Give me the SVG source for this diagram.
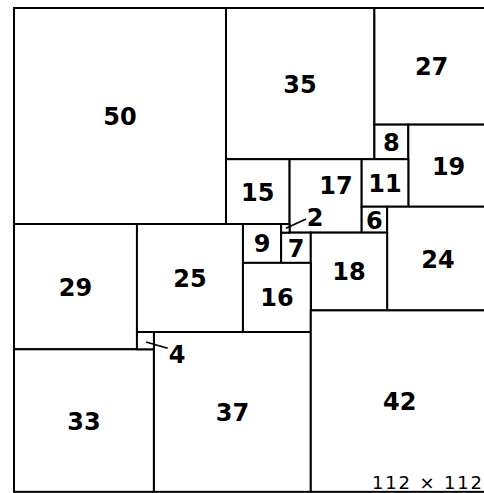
<svg xmlns="http://www.w3.org/2000/svg" width="484" height="493" viewBox="0 0 484 493">
<style>
rect{fill:#fff;stroke:#000;stroke-width:2}
.l{font-family:"DejaVu Sans",Verdana,sans-serif;font-weight:bold;font-size:24px;text-anchor:middle;fill:#000}
.c{stroke:#000;stroke-width:1.6}
.t{font-family:"DejaVu Sans",Verdana,sans-serif;font-size:18px;text-anchor:end;fill:#000}
</style>
<rect width="484" height="493" style="fill:#fff;stroke:none"/>
<g id="s50"><rect x="14" y="8" width="212" height="216"/><text class="l" x="120" y="125">50</text></g>
<g id="s35"><rect x="226" y="8" width="148.4" height="151.2"/><text class="l" x="300" y="93">35</text></g>
<g id="s27"><rect x="374.4" y="8" width="114.48" height="116.64"/><text class="l" x="431.6" y="75">27</text></g>
<g id="s8"><rect x="374.4" y="124.64" width="33.92" height="34.56"/><text class="l" x="391.4" y="151">8</text></g>
<g id="s19"><rect x="408.32" y="124.64" width="80.56" height="82.08"/><text class="l" x="448.6" y="175">19</text></g>
<g id="s15"><rect x="226" y="159.2" width="63.6" height="64.8"/><text class="l" x="257.8" y="200.5">15</text></g>
<g id="s17"><rect x="289.6" y="159.2" width="72.08" height="73.44"/><text class="l" x="336" y="194">17</text></g>
<g id="s11"><rect x="361.68" y="159.2" width="46.64" height="47.52"/><text class="l" x="385" y="192">11</text></g>
<g id="s6"><rect x="361.68" y="206.72" width="25.44" height="25.92"/><text class="l" x="374.4" y="228.5">6</text></g>
<g id="s24"><rect x="387.12" y="206.72" width="101.76" height="103.68"/><text class="l" x="438" y="267.5">24</text></g>
<g id="s29"><rect x="14" y="224" width="122.96" height="125.28"/><text class="l" x="75.5" y="295.5">29</text></g>
<g id="s25"><rect x="136.96" y="224" width="106" height="108"/><text class="l" x="190" y="287">25</text></g>
<g id="s9"><rect x="242.96" y="224" width="38.16" height="38.88"/><text class="l" x="262" y="252.3">9</text></g>
<g id="s7"><rect x="281.12" y="232.64" width="29.68" height="30.24"/><text class="l" x="296" y="256.7">7</text></g>
<g id="s18"><rect x="310.8" y="232.64" width="76.32" height="77.76"/><text class="l" x="349" y="280.4">18</text></g>
<g id="s16"><rect x="242.96" y="262.88" width="67.84" height="69.12"/><text class="l" x="277" y="306.3">16</text></g>
<g id="s33"><rect x="14" y="349.28" width="139.92" height="142.56"/><text class="l" x="84" y="429.5">33</text></g>
<g id="s37"><rect x="153.92" y="332" width="156.88" height="159.84"/><text class="l" x="232.4" y="421">37</text></g>
<g id="s42"><rect x="310.8" y="310.4" width="178.08" height="181.44"/><text class="l" x="399.8" y="410">42</text></g>
<g id="s2"><rect x="281.12" y="224" width="8.48" height="8.64"/><text class="l" x="315" y="226">2</text></g>
<g id="s4"><rect x="136.96" y="332" width="16.96" height="17.28"/><text class="l" x="177" y="362.5">4</text></g>
<g id="connectors">
<line class="c" x1="286" y1="228.3" x2="306" y2="219"/>
<line class="c" x1="146" y1="342" x2="167.7" y2="348.3"/>
</g>
<text class="t" x="482" y="489" textLength="110">112 × 112</text>
</svg>
